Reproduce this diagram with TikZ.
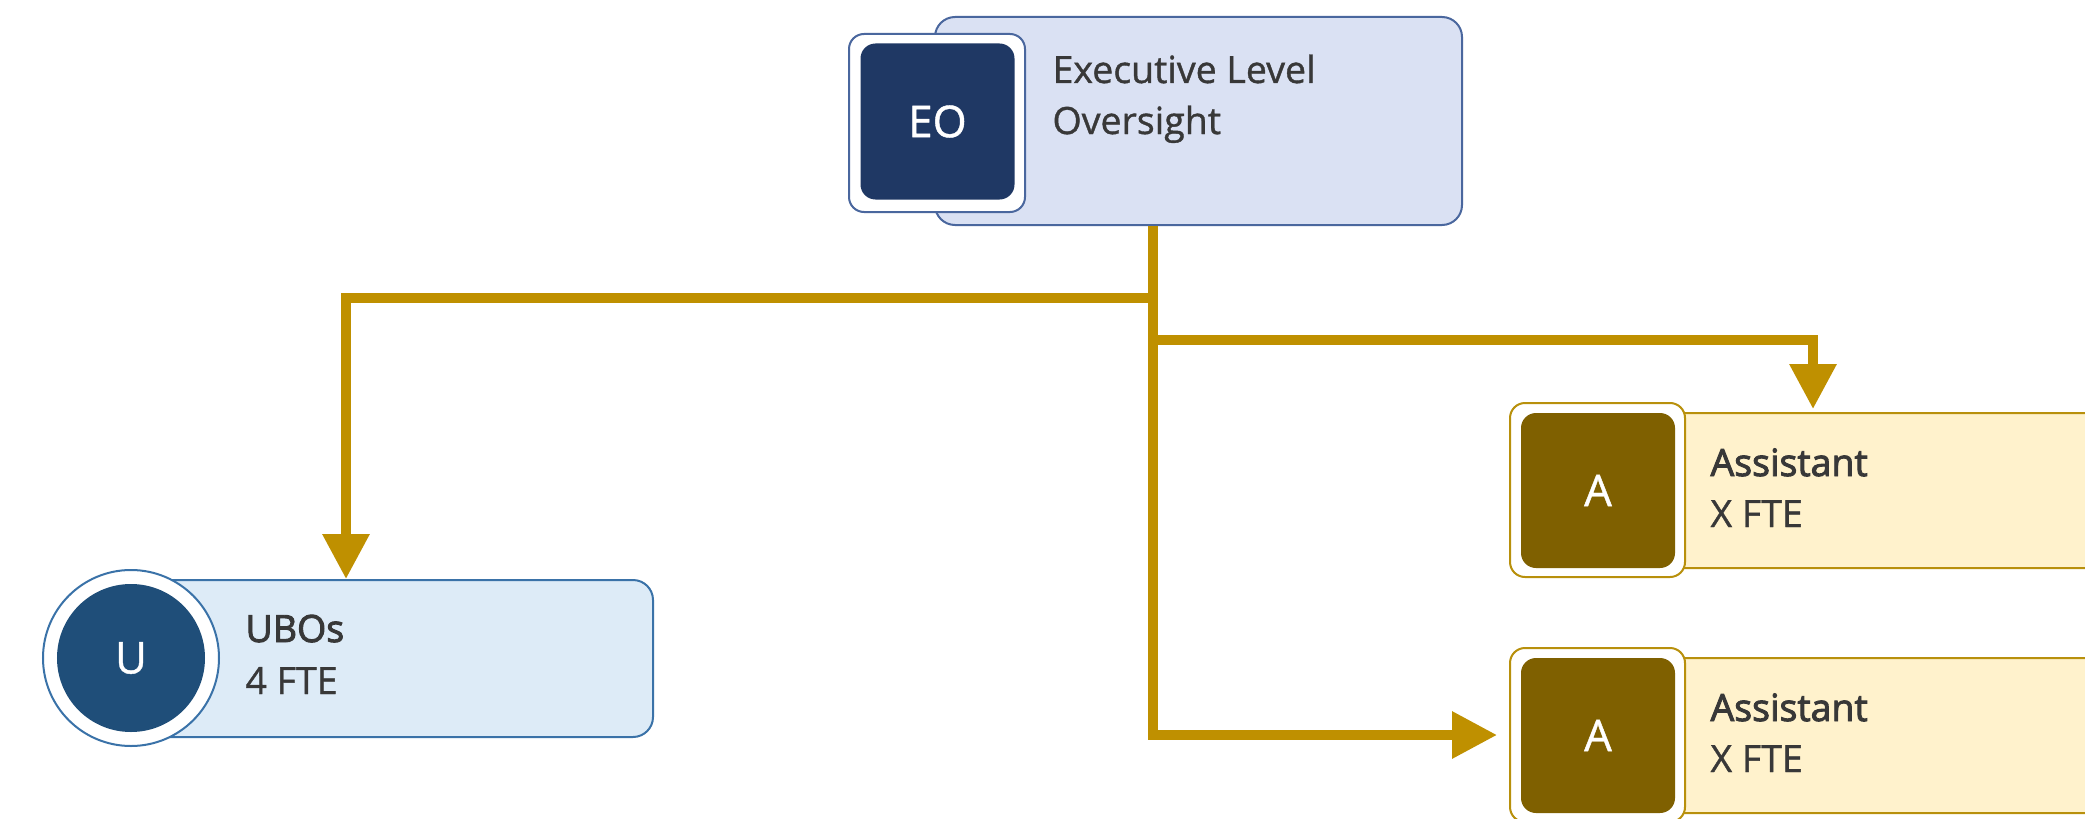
\documentclass[tikz,border=0pt]{standalone}
\usepackage{fontspec}
\setmainfont{Open Sans}
\newfontfamily\semib[FakeBold=2.5]{Open Sans}
\newfontfamily\medium[FakeBold=1]{Open Sans}
\usetikzlibrary{arrows.meta}
\definecolor{gold}{HTML}{BF9000}
\definecolor{eofill}{HTML}{DAE1F3}
\definecolor{eoline}{HTML}{4A679E}
\definecolor{eodark}{HTML}{1F3864}
\definecolor{ubofill}{HTML}{DDEBF7}
\definecolor{uboline}{HTML}{3A72A8}
\definecolor{ubodark}{HTML}{1F4E79}
\definecolor{asfill}{HTML}{FFF2CC}
\definecolor{asline}{HTML}{B8900C}
\definecolor{asdark}{HTML}{7F6000}
\definecolor{txt}{HTML}{383838}
\begin{document}
\begin{tikzpicture}[x=0.4pt,y=-0.4pt,
  mainbox/.style={draw, line width=0.8pt, rounded corners=8pt, inner sep=0pt},
  badge/.style={draw, fill=white, line width=0.8pt, rounded corners=6pt, inner sep=0pt},
  core/.style={rounded corners=6pt, inner sep=0pt, text=white, font=\medium\fontsize{17.5}{20}\selectfont},
  rbadge/.style={circle, draw, fill=white, line width=0.8pt, inner sep=0pt},
  rcore/.style={circle, inner sep=0pt, text=white, font=\medium\fontsize{17.5}{20}\selectfont},
  lbl/.style={anchor=base west, inner sep=0pt, text=txt, font=\medium\fontsize{15}{18}\selectfont},
  lblb/.style={anchor=base west, inner sep=0pt, text=txt, font=\semib\fontsize{15}{18}\selectfont},
  conn/.style={draw=gold, line width=3.8pt},
  tip/.style={-{Triangle[length=18pt,width=18pt]}}
]
\clip (0,0) rectangle (2085,819);
\fill[white] (0,0) rectangle (2085,819);

% Executive Level Oversight
\node[mainbox, draw=eoline, fill=eofill, minimum width=210.8pt, minimum height=83.2pt] (eo) at (1198.5,121) {};
\node[badge, draw=eoline, minimum width=70.4pt, minimum height=71.2pt] (eosq) at (937,123) {};
\node[core, fill=eodark, minimum width=61.6pt, minimum height=62.4pt] (eocore) at (937.5,121.5) {EO};
\node[lbl] (eot1) at (1052,83) {Executive Level};
\node[lbl] (eot2) at (1052,134) {Oversight};

% UBOs
\node[mainbox, draw=uboline, fill=ubofill, minimum width=208.8pt, minimum height=62.8pt] (ubo) at (392,658.5) {};
\node[rbadge, draw=uboline, minimum size=70.4pt] (ubosq) at (131,658) {};
\node[rcore, fill=ubodark, minimum size=59.2pt] (ubocore) at (131,658) {U};
\node[lblb] (ubot1) at (245,642) {UBOs};
\node[lbl] (ubot2) at (245,694) {4 FTE};

% Assistant 1
\node[mainbox, draw=asline, fill=asfill, minimum width=208pt, minimum height=62pt] (as1) at (1880,490.5) {};
\node[badge, draw=asline, minimum width=70pt, minimum height=69.6pt] (as1sq) at (1597.5,490) {};
\node[core, fill=asdark, minimum width=61.6pt, minimum height=62pt] (as1core) at (1598,490.5) {A};
\node[lblb] (as1t1) at (1710,476) {Assistant};
\node[lbl] (as1t2) at (1710,527) {X FTE};

% Assistant 2
\node[mainbox, draw=asline, fill=asfill, minimum width=208pt, minimum height=62pt] (as2) at (1880,735.5) {};
\node[badge, draw=asline, minimum width=70pt, minimum height=69.6pt] (as2sq) at (1597.5,735) {};
\node[core, fill=asdark, minimum width=61.6pt, minimum height=62pt] (as2core) at (1598,735.5) {A};
\node[lblb] (as2t1) at (1710,721) {Assistant};
\node[lbl] (as2t2) at (1710,772) {X FTE};

% connectors
\coordinate (trunk) at (1153,0);
\coordinate (ubox) at (346,0);
\coordinate (asx) at (1813,0);
\coordinate (brL) at (1153,298);
\coordinate (brR) at (1153,340);
\draw[conn, tip, shorten >=4.8pt] (eo.south -| trunk) |- (as2sq.west);
\draw[conn, tip] (brL) -| (ubo.north -| ubox);
\draw[conn, tip, shorten >=1.2pt] (brR) -| (as1.north -| asx);
\end{tikzpicture}
\end{document}
